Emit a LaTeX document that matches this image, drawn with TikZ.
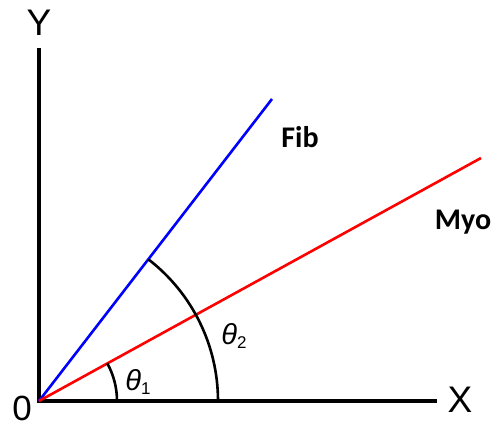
\documentclass[tikz,border=0pt]{standalone}
\usepackage{fontspec}
\setmainfont{Liberation Sans}
\newfontfamily\calib{Carlito}
\newcommand{\angsym}[1]{{\itshape θ}\raisebox{-0.12em}{\fontsize{17}{17}\selectfont #1}}
\begin{document}
\begin{tikzpicture}[x=1pt,y=-1pt,
  axis/.style={line width=4.8pt,black},
  ray/.style={line width=2.6pt},
  arcline/.style={line width=2.6pt,black},
  axlabel/.style={font=\fontsize{37}{37}\selectfont,inner sep=0pt},
  raylabel/.style={font=\calib\bfseries\fontsize{30}{30}\selectfont,inner sep=0pt},
  anglabel/.style={font=\fontsize{29}{29}\selectfont,inner sep=0pt}]
\useasboundingbox (0,0) rectangle (496,428);
\coordinate (O) at (39,401);
\coordinate (ytop) at (39,48);
\coordinate (xend) at (437,401);
\coordinate (fibend) at (272,99);
\coordinate (myoend) at (481,158);
\draw[axis] (ytop) -- (O) -- (xend);
\draw[ray,blue] (O) -- (fibend);
\draw[ray,red] (O) -- (myoend);
\draw[arcline] ([shift={(78,0)}]O) arc[start angle=0,end angle=-28.8,radius=78];
\draw[arcline] ([shift={(179,0)}]O) arc[start angle=0,end angle=-52.3,radius=179];
\node[axlabel] (Y) at (39,23) {Y};
\node[axlabel] (X) at (460,400) {X};
\node[font=\fontsize{35}{35}\selectfont,inner sep=0pt,anchor=base] (zero) at (22,420) {0};
\node[raylabel] (fib) at (300,137) {Fib};
\node[raylabel] (myo) at (463,222) {Myo};
\node[anglabel] (t1) at (138,382) {\angsym{1}};
\node[anglabel] (t2) at (234,336) {\angsym{2}};
\end{tikzpicture}
\end{document}
